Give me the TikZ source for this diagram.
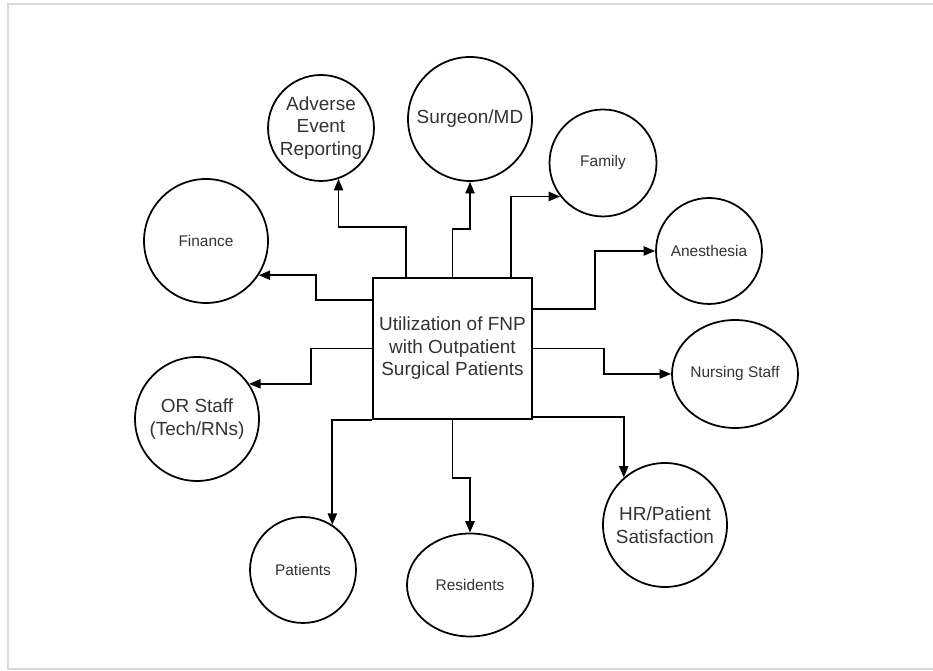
\documentclass[tikz,border=0pt]{standalone}
\usepackage{fontspec}
\setmainfont{Liberation Sans}
\usetikzlibrary{arrows.meta,calc,shapes.geometric}
\definecolor{inkgray}{HTML}{333333}
\begin{document}
\begin{tikzpicture}[x=0.02cm,y=0.02cm,
	line width=1pt,
	arr/.style={-{Triangle[length=6.5pt,width=5.2pt]}},
	bigtext/.style={font=\fontsize{10.8}{12.8}\selectfont,text=inkgray,align=center},
	smalltext/.style={font=\fontsize{8.8}{10.5}\selectfont,text=inkgray,align=center},
	bigcirc/.style={draw,circle,inner sep=0pt,minimum size=2.48cm,bigtext},
	smallcirc/.style={draw,circle,inner sep=0pt,minimum size=2.12cm,smalltext},
	centerbox/.style={draw,rectangle,minimum width=3.18cm,minimum height=2.82cm,inner sep=0pt,bigtext}]
	\useasboundingbox (0,0) rectangle (933,671);
	% page frame (shadowed edge)
	\draw[gray!30,line width=1.4pt] (933,667) -- (8,667) -- (8,2) -- (933,2);
	% the central box
	\node[centerbox] (fnp) at (452.5,322.5) {Utilization of FNP\\with Outpatient\\Surgical Patients};
	% the circles, clockwise from the top left
	\node[smallcirc,bigtext] (adv) at (321,543) {Adverse\\Event\\Reporting};
	\node[bigcirc] (surg) at (470,552) {Surgeon/MD};
	\node[smallcirc,minimum size=2.14cm] (fam) at (603,508) {Family};
	\node[smallcirc] (anes) at (709,420) {Anesthesia};
	\node[draw,ellipse,inner sep=0pt,minimum width=2.5cm,minimum height=2.16cm,smalltext] (nurs) at (735,297) {Nursing Staff};
	\node[bigcirc] (hr) at (665,146) {HR/Patient\\Satisfaction};
	\node[draw,ellipse,inner sep=0pt,minimum width=2.52cm,minimum height=2.06cm,smalltext] (res) at (470,86) {Residents};
	\node[smallcirc] (pat) at (303,101) {Patients};
	\node[bigcirc] (ors) at (197,252) {OR Staff\\(Tech/RNs)};
	\node[bigcirc] (fin) at (206,430) {};
	\node[smalltext] at (fin) {Finance};
	% connectors leaving the top of the box
	\draw[arr] ($(fnp.north)+(-46.5,0)$) -- ++(0,50) -| (adv.-71);
	\draw[arr] (fnp.north) -- ++(0,48) -| (surg.south);
	\draw[arr] ($(fnp.north)+(58.5,0)$) |- (fam.218);
	% connectors leaving the right side
	\draw[arr] ($(fnp.east)+(0,39.5)$) -- ++(62,0) |- (anes.west);
	\draw[arr] (fnp.east) -- ++(71,0) |- (nurs.west);
	\draw[arr] ($(fnp.east)+(0,-68.5)$) -| (hr.131);
	% connectors leaving the bottom
	\draw[arr] (fnp.south) -- ++(0,-58) -| (res.north);
	\draw[arr] (fnp.south west) -| (pat.57);
	% connectors leaving the left side
	\draw[arr] ($(fnp.west)+(0,48.5)$) -- ++(-56,0) |- (fin.-33);
	\draw[arr] (fnp.west) -- ++(-61,0) |- (ors.34);
\end{tikzpicture}
\end{document}
